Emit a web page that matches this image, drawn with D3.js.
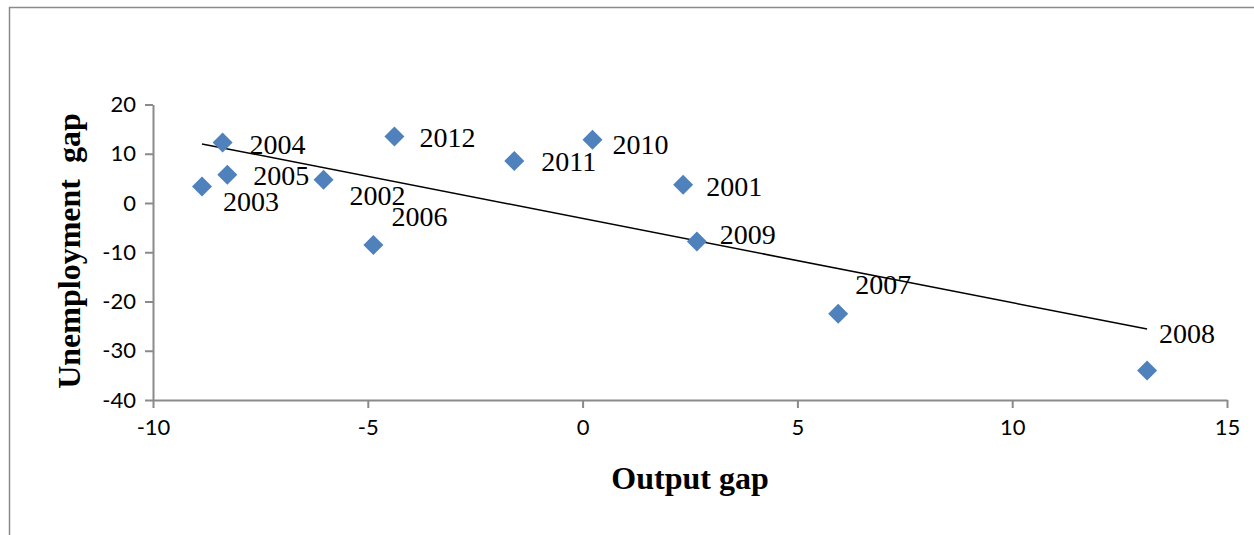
<!DOCTYPE html>
<html>
<head>
<meta charset="utf-8">
<script src="https://cdn.jsdelivr.net/npm/d3@7/dist/d3.min.js"></script>
<style>
  html, body { margin: 0; padding: 0; background: #fff; }
  svg { display: block; }
</style>
</head>
<body>
<svg id="chart" width="1254" height="535"></svg>
<script>
// ---- Data ----
const years = ["2004", "2005", "2003", "2002", "2006", "2012", "2011", "2010", "2001", "2009", "2007", "2008"];
const outputGap = [-8.38, -8.27, -8.86, -6.03, -4.87, -4.38, -1.59, 0.23, 2.34, 2.66, 5.95, 13.14];
const unemploymentGap = [12.3, 5.75, 3.37, 4.73, -8.53, 13.5, 8.53, 12.85, 3.72, -7.8, -22.5, -34.0];
const trendX = [-8.86, 13.14];
const trendY = [12.0, -25.6];
const xTicks = [-10, -5, 0, 5, 10, 15];
const yTicks = [-40, -30, -20, -10, 0, 10, 20];

// ---- Label placement (styling, not data) ----
const labelOffsets = {
  "2004": [27, 12], "2005": [26, 10], "2003": [21, 25], "2002": [26, 25],
  "2006": [18, -19], "2012": [25, 10], "2011": [27, 10], "2010": [20, 14],
  "2001": [23, 11], "2009": [23, 3], "2007": [17, -20], "2008": [12, -27]
};

const svg = d3.select("#chart");
const axisColor = "#8a8a8a";

// outer border
svg.append("rect")
  .attr("x", 9.5).attr("y", 7.5)
  .attr("width", 1300).attr("height", 700)
  .attr("fill", "none").attr("stroke", axisColor).attr("stroke-width", 1.5);

const x = d3.scaleLinear().domain([-10, 15]).range([153, 1227]);
const y = d3.scaleLinear().domain([-40, 20]).range([400, 104.5]);

const fmt = d => String(d);

// Y axis
const yAxis = d3.axisLeft(y).tickValues(yTicks).tickFormat(fmt).tickSize(8).tickSizeOuter(0).tickPadding(9);
const gy = svg.append("g").attr("transform", `translate(${x(-10)},0)`).call(yAxis);
// X axis
const xAxis = d3.axisBottom(x).tickValues(xTicks).tickFormat(fmt).tickSize(8).tickSizeOuter(0).tickPadding(11);
const gx = svg.append("g").attr("transform", `translate(0,${y(-40)})`).call(xAxis);

[gx, gy].forEach(g => {
  g.select(".domain").attr("stroke", axisColor).attr("stroke-width", 2);
  g.selectAll(".tick line").attr("stroke", axisColor).attr("stroke-width", 2);
  g.selectAll(".tick text")
    .attr("fill", "#000")
    .style("font-family", "Lato, 'Open Sans', sans-serif")
    .style("font-size", "22px");
});
gx.selectAll(".tick text").attr("dy", "0.71em");

// Trendline
svg.append("line")
  .attr("x1", x(trendX[0])).attr("y1", y(trendY[0]))
  .attr("x2", x(trendX[1])).attr("y2", y(trendY[1]))
  .attr("stroke", "#000").attr("stroke-width", 1.5);

// Points
const pts = years.map((yr, i) => ({ yr, x: outputGap[i], y: unemploymentGap[i] }));
const diamond = d3.symbol().type(d3.symbolSquare).size(200);
svg.append("g").selectAll("path").data(pts).join("path")
  .attr("d", diamond)
  .attr("transform", d => `translate(${x(d.x)},${y(d.y)}) rotate(45)`)
  .attr("fill", "#4F81BD");

// Year labels
svg.append("g").selectAll("text").data(pts).join("text")
  .attr("x", d => x(d.x) + labelOffsets[d.yr][0])
  .attr("y", d => y(d.y) + labelOffsets[d.yr][1])
  .text(d => d.yr)
  .style("font-family", "'Liberation Serif', 'Times New Roman', serif")
  .style("font-size", "28px")
  .attr("fill", "#000");

// Axis titles
svg.append("text")
  .attr("x", 690).attr("y", 489)
  .attr("text-anchor", "middle")
  .style("font-family", "'Liberation Serif', 'Times New Roman', serif")
  .style("font-size", "32px").style("font-weight", "bold")
  .text("Output gap");

svg.append("text")
  .attr("transform", "translate(80,251) rotate(-90)")
  .attr("text-anchor", "middle")
  .style("font-family", "'Liberation Serif', 'Times New Roman', serif")
  .style("font-size", "32px").style("font-weight", "bold")
  .style("white-space", "pre")
  .text("Unemployment  gap");
</script>
</body>
</html>
